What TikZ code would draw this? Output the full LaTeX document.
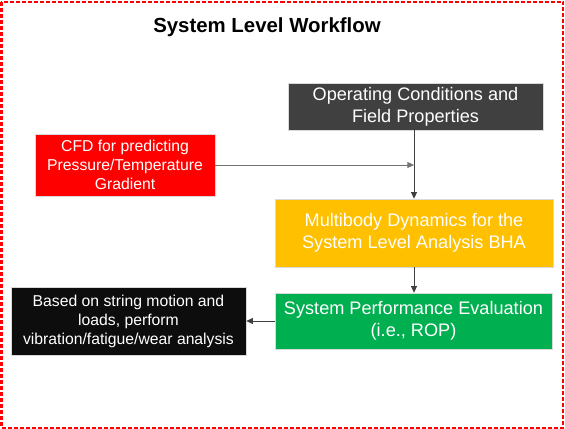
\documentclass[tikz,border=0pt]{standalone}
\usepackage{fontspec}
\setmainfont{Liberation Sans}
\usetikzlibrary{arrows.meta, positioning, calc}
\definecolor{opsgray}{HTML}{404040}
\definecolor{cfdred}{HTML}{FF0000}
\definecolor{mbdyellow}{HTML}{FFC000}
\definecolor{perfgreen}{HTML}{00B050}
\definecolor{postblack}{HTML}{0D0D0D}

\begin{document}
\begin{tikzpicture}[
    x=0.75pt, y=-0.75pt,
    >={Triangle[length=5pt, width=4.5pt]},
    block/.style={draw=white!85!black, line width=0.4pt, inner sep=0pt, align=center,
                  text=white, font=\fontsize{13.6}{16.3}\selectfont},
    small/.style={font=\fontsize{11.8}{14.3}\selectfont},
    arrow/.style={->, line width=0.75pt, color=black!75},
    redframe/.style={draw=cfdred, line width=1.5pt, dash pattern=on 3pt off 1.5pt},
]
    \useasboundingbox (0,0) rectangle (565,429);
    \draw[redframe] (1.5,1.5) rectangle (563,427.5);

    % Title
    \node[font=\fontsize{15.3}{18}\selectfont\bfseries] (title) at (267,27) {System Level Workflow};

    % Blocks
    \node[block, fill=opsgray, minimum width=255*0.75pt, minimum height=47*0.75pt] (ops) at (415.5,106.5)
        {Operating Conditions and\\Field Properties};
    \node[block, small, fill=cfdred, minimum width=180*0.75pt, minimum height=62*0.75pt] (cfd) at (125,165)
        {CFD for predicting\\Pressure/Temperature\\Gradient};
    \node[block, fill=mbdyellow, minimum width=278*0.75pt, minimum height=68*0.75pt] (mbd) at (414,233)
        {Multibody Dynamics for the\\System Level Analysis BHA};
    \node[block, fill=perfgreen, minimum width=277*0.75pt, minimum height=56*0.75pt] (perf) at (413.5,321)
        {System Performance Evaluation\\(i.e., ROP)};
    \node[block, small, fill=postblack, minimum width=235*0.75pt, minimum height=68*0.75pt] (post) at (128.5,321)
        {Based on string motion and\\loads, perform\\vibration/fatigue/wear analysis};

    % Arrows
    \draw[arrow] (ops.south -| mbd.north) -- (mbd.north);
    \draw[arrow, color=black!55] (cfd.east) -- (cfd.east -| mbd.north);
    \draw[arrow] (mbd.south) -- (perf.north -| mbd.south);
    \draw[arrow] (perf.west) -- (post.east);
\end{tikzpicture}
\end{document}
